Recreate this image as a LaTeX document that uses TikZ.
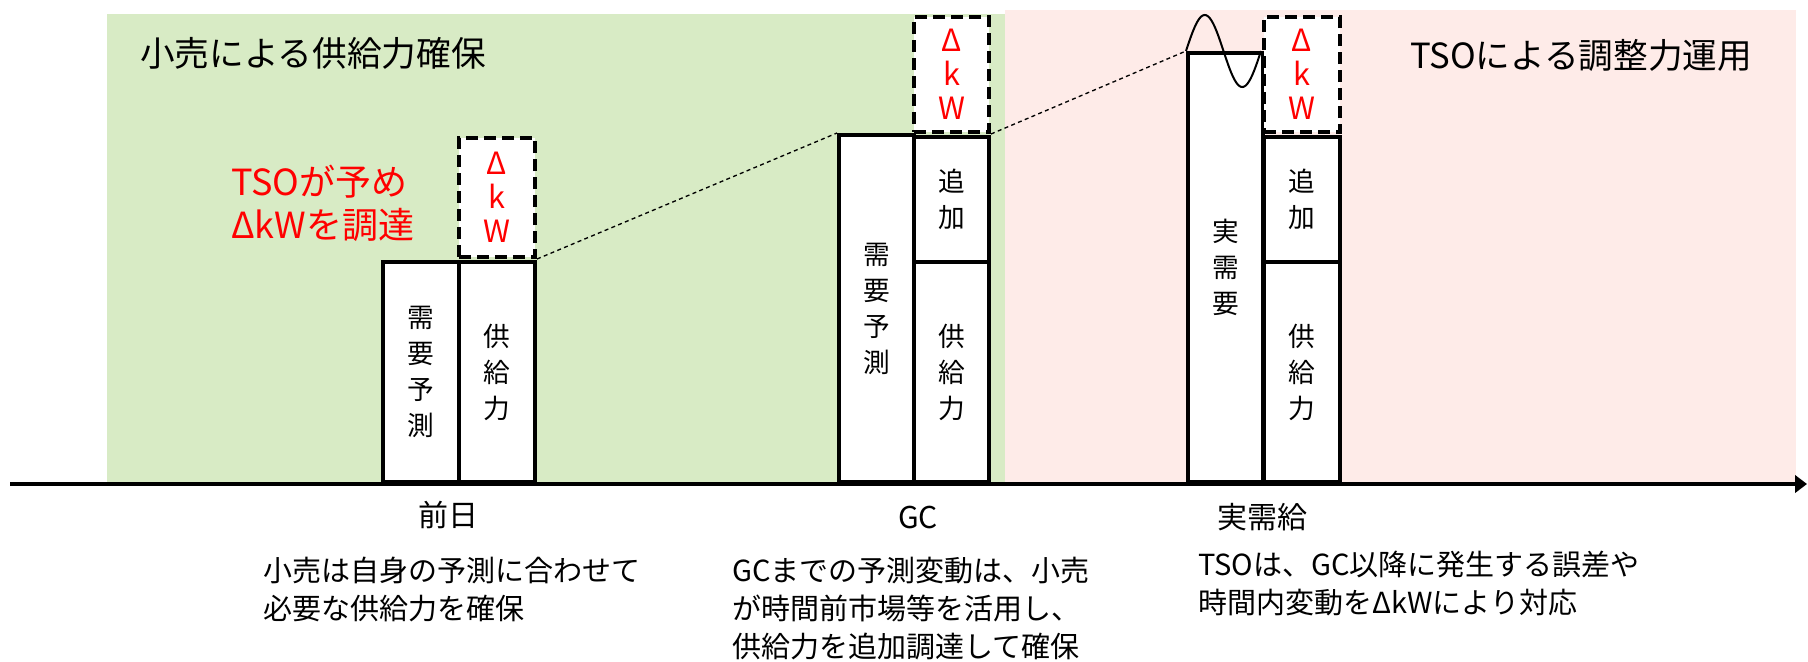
\documentclass[tikz,border=0pt]{standalone}
\usepackage{fontspec}
\setmainfont{Noto Sans CJK JP}
\usetikzlibrary{arrows.meta}
\definecolor{bggreen}{RGB}{216,235,197}
\definecolor{bgpink}{RGB}{254,235,232}
\begin{document}
\begin{tikzpicture}[x=0.75pt,y=-0.75pt,
  bar/.style={draw=black, line width=3pt, fill=white, inner sep=0pt, anchor=south west, align=center, font=\fontsize{20}{27}\selectfont},
  dkw/.style={draw=black, line width=3pt, dash pattern=on 9pt off 4.5pt, fill=white, inner sep=0pt, anchor=south west, align=center, text=red, font=\fontsize{23}{25.5}\selectfont},
  link/.style={line width=1pt, dash pattern=on 3pt off 2.5pt},
  title/.style={anchor=west, inner sep=0pt, font=\fontsize{26}{31}\selectfont},
  redtxt/.style={anchor=west, inner sep=0pt, align=left, text=red, font=\fontsize{27}{32}\selectfont},
  timelbl/.style={anchor=center, inner sep=0pt, font=\fontsize{22.5}{27}\selectfont},
  note/.style={anchor=west, inner sep=0pt, align=left, font=\fontsize{21.75}{28.5}\selectfont},
  axisline/.style={line width=3.5pt, -{Triangle[length=9pt,width=13pt]}}
]
\useasboundingbox (0,0) rectangle (1808,661);
% backgrounds
\fill[bggreen] (107,14) rectangle (1005,484);
\fill[bgpink] (1005,10) rectangle (1796,484);
% axis
\coordinate (axL) at (10,484);
\coordinate (axR) at (1807,484);
\draw[axisline] (axL) -- (axR);
% titles
\node[title] (t1) at (140,53) {小売による供給力確保};
\node[title] (t2) at (1410,55) {TSOによる調整力運用};
\node[redtxt] (red) at (231,203.5) {TSOが予め\\ΔkWを調達};
% day-ahead
\node[bar, minimum width=57pt, minimum height=165pt] (d1) at (381,484) {需\\要\\予\\測};
\node[bar, minimum width=57pt, minimum height=165pt] (s1) at (457,484) {供\\給\\力};
\node[dkw, minimum width=57pt, minimum height=89.25pt] (b1) at (457,259) {Δ\\k\\W};
% GC
\node[bar, minimum width=56.25pt, minimum height=260.25pt] (d2) at (837,484) {需\\要\\予\\測};
\node[bar, minimum width=56.25pt, minimum height=165pt] (s2) at (912,484) {供\\給\\力};
\node[bar, minimum width=56.25pt, minimum height=93.75pt] (a2) at (912,264) {追\\加};
\node[dkw, minimum width=56.25pt, minimum height=86.25pt] (b2) at (912,134) {Δ\\k\\W};
% real time
\node[bar, minimum width=56.25pt, minimum height=321.75pt] (d3) at (1186,484) {実\\需\\要};
\node[bar, minimum width=57pt, minimum height=165pt] (s3) at (1262,484) {供\\給\\力};
\node[bar, minimum width=57pt, minimum height=93.75pt] (a3) at (1262,264) {追\\加};
\node[dkw, minimum width=57pt, minimum height=86.25pt] (b3) at (1262,134) {Δ\\k\\W};
% sine wave
\begin{scope}[shift={(d3.north west)}]
\draw[line width=1.5pt] plot[domain=0:1, samples=73, smooth] ({75*\x},{-36*sin(360*\x)});
\end{scope}
% dashed links
\draw[link] (b1.south east) -- (d2.north west);
\draw[link] (b2.south east) -- (d3.north west);
% time labels
\node[timelbl] (l1) at (448,515) {前日};
\node[timelbl] (l2) at (918,517) {GC};
\node[timelbl] (l3) at (1262,517) {実需給};
% notes
\node[note] (n1) at (263,589.5) {小売は自身の予測に合わせて\\必要な供給力を確保};
\node[note] (n2) at (732,608.5) {GCまでの予測変動は、小売\\が時間前市場等を活用し、\\供給力を追加調達して確保};
\node[note] (n3) at (1198,584) {TSOは、GC以降に発生する誤差や\\時間内変動をΔkWにより対応};
\end{tikzpicture}
\end{document}
